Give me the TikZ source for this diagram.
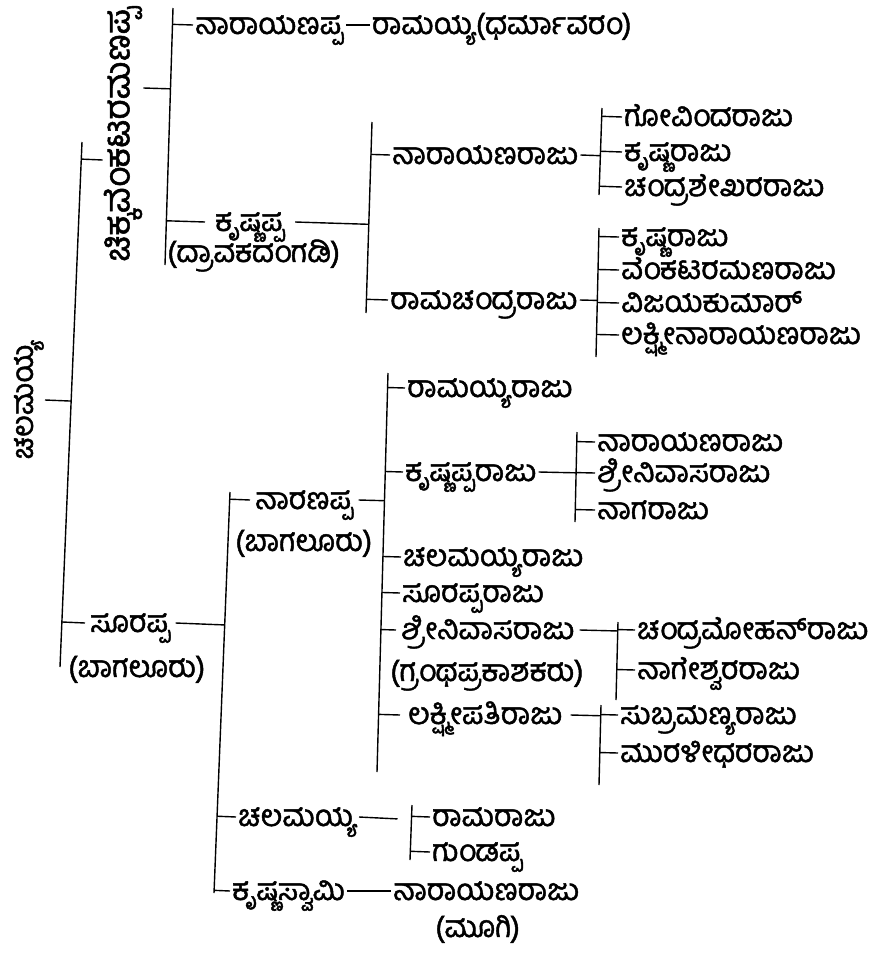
\documentclass[tikz,border=0pt]{standalone}
\usepackage{fontspec}
\newfontfamily\kn[Script=Kannada, FakeBold=1.5]{Hind Mysuru}
\usetikzlibrary{calc}
\newcommand\kid[2]{\draw[ln] ($(#1t)!(#2.west)!(#1b)$) -- (#2.west);}
\newcommand\tobar[2]{\draw[ln] (#2.east) -- ($(#1t)!(#2.east)!(#1b)$);}
\newcommand\vbar[3]{\coordinate (#1t) at #2; \coordinate (#1b) at #3; \draw[ln] (#1t) -- (#1b);}
\begin{document}
\begin{tikzpicture}[x=1pt,y=-1pt,
  nm/.style={font=\kn\fontsize{30}{32}\selectfont, anchor=west, inner xsep=2pt, inner ysep=0pt, text height=22pt, text depth=4pt},
  rot/.style={font=\kn\fontsize{30}{32}\selectfont, rotate=90, inner sep=1pt},
  ln/.style={line width=1.4pt}]
\useasboundingbox (0,0) rectangle (888,964);
% bars
\vbar{R}{(82,142)}{(60,667)}
\vbar{A}{(173,8)}{(165,265)}
\vbar{B}{(372,122)}{(366,313)}
\vbar{C}{(602,108)}{(599,195)}
\vbar{D}{(599,228)}{(596,357)}
\vbar{E}{(230,492)}{(214,893)}
\vbar{F}{(388,373)}{(377,772)}
\vbar{G}{(577,432)}{(575,522)}
\vbar{H}{(618,622)}{(616,700)}
\vbar{I}{(601,705)}{(599,785)}
\vbar{J}{(412,805)}{(410,860)}
% root and first child
\node[rot] (root) at (29,400) {ಚಲಮಯ್ಯ};
\node[rot, font=\kn\fontsize{35}{37}\selectfont] (c1) at (123,134) {ಚಿಕ್ಕವೆಂಕಟರಮಣಪ್ಪ};
\draw[ln] (root.south) -- ($(Rt)!(root.south)!(Rb)$);
\draw[ln] ($(Rt)!([yshift=-26pt]c1.north)!(Rb)$) -- ([yshift=-26pt]c1.north);
\draw[ln] ([yshift=46pt]c1.south) -- ($(At)!([yshift=46pt]c1.south)!(Ab)$);
% top branch
\node[nm] (n1) at (193,25) {ನಾರಾಯಣಪ್ಪ};
\node[nm] (n1a) at ($(n1.east)+(24,0)$) {ರಾಮಯ್ಯ(ಧರ್ಮಾವರಂ)};
\node[nm, inner xsep=10pt] (k) at (205,222) {ಕೃಷ್ಣಪ್ಪ};
\node[nm] (ksub) at (165,253) {(ದ್ರಾವಕದಂಗಡಿ)};
\kid{A}{n1} \draw[ln] (n1.east) -- (n1a.west);
\kid{A}{k} \tobar{B}{k}
\node[nm] (nr) at (390,155) {ನಾರಾಯಣರಾಜು};
\node[nm] (rc) at (388,300) {ರಾಮಚಂದ್ರರಾಜು};
\kid{B}{nr} \kid{B}{rc} \tobar{C}{nr} \tobar{D}{rc}
\node[nm] (g1) at (622,117) {ಗೋವಿಂದರಾಜು};
\node[nm] (g2) at (622,152) {ಕೃಷ್ಣರಾಜು};
\node[nm] (g3) at (622,187) {ಚಂದ್ರಶೇಖರರಾಜು};
\kid{C}{g1} \kid{C}{g2} \kid{C}{g3}
\node[nm] (h1) at (619,237) {ಕೃಷ್ಣರಾಜು};
\node[nm] (h2) at (619,270) {ವೆಂಕಟರಮಣರಾಜು};
\node[nm] (h3) at (619,303) {ವಿಜಯಕುಮಾರ್};
\node[nm] (h4) at (619,335) {ಲಕ್ಷ್ಮೀನಾರಾಯಣರಾಜು};
\kid{D}{h1} \kid{D}{h2} \kid{D}{h3} \kid{D}{h4}
% lower branch
\node[nm, inner xsep=5pt] (s) at (85,623) {ಸೂರಪ್ಪ};
\node[nm] (ssub) at (66,668) {(ಬಾಗಲೂರು)};
\kid{R}{s} \tobar{E}{s}
\node[nm, inner xsep=5pt] (na) at (250,500) {ನಾರಣಪ್ಪ};
\node[nm] (nasub) at (233,542) {(ಬಾಗಲೂರು)};
\kid{E}{na} \tobar{F}{na}
\node[nm] (r1) at (405,388) {ರಾಮಯ್ಯರಾಜು};
\node[nm] (r2) at (403,472) {ಕೃಷ್ಣಪ್ಪರಾಜು};
\node[nm] (r3) at (401,557) {ಚಲಮಯ್ಯರಾಜು};
\node[nm] (r4) at (400,593) {ಸೂರಪ್ಪರಾಜು};
\node[nm, inner xsep=5pt] (r5) at (396,630) {ಶ್ರೀನಿವಾಸರಾಜು};
\node[nm] (r5sub) at (388,672) {(ಗ್ರಂಥಪ್ರಕಾಶಕರು)};
\node[nm, inner xsep=8pt] (r6) at (400,715) {ಲಕ್ಷ್ಮೀಪತಿರಾಜು};
\kid{F}{r1} \kid{F}{r2} \kid{F}{r3} \kid{F}{r4} \kid{F}{r5} \kid{F}{r6}
\tobar{G}{r2} \tobar{H}{r5} \tobar{I}{r6}
\node[nm] (q1) at (595,442) {ನಾರಾಯಣರಾಜು};
\node[nm] (q2) at (595,473) {ಶ್ರೀನಿವಾಸರಾಜು};
\node[nm] (q3) at (595,510) {ನಾಗರಾಜು};
\kid{G}{q1} \kid{G}{q2} \kid{G}{q3}
\node[nm] (p1) at (635,630) {ಚಂದ್ರಮೋಹನ್‌ರಾಜು};
\node[nm] (p2) at (635,670) {ನಾಗೇಶ್ವರರಾಜು};
\kid{H}{p1} \kid{H}{p2}
\node[nm] (t1) at (618,715) {ಸುಬ್ರಮಣ್ಯರಾಜು};
\node[nm] (t2) at (618,753) {ಮುರಳೀಧರರಾಜು};
\kid{I}{t1} \kid{I}{t2}
\node[nm] (cm) at (236,817) {ಚಲಮಯ್ಯ};
\coordinate (cmend) at ($($(Jt)!(cm.east)!(Jb)$)+(-14,0)$);
\kid{E}{cm} \draw[ln] (cm.east) -- (cmend);
\node[nm] (u1) at (430,817) {ರಾಮರಾಜು};
\node[nm] (u2) at (430,852) {ಗುಂಡಪ್ಪ};
\kid{J}{u1} \kid{J}{u2}
\node[nm] (ks) at (230,891) {ಕೃಷ್ಣಸ್ವಾಮಿ};
\node[nm] (ks2) at (391,891) {ನಾರಾಯಣರಾಜು};
\node[nm] (ks2sub) at (433,928) {(ಮೂಗಿ)};
\kid{E}{ks} \draw[ln] (ks.east) -- (ks2.west);
\end{tikzpicture}
\end{document}
